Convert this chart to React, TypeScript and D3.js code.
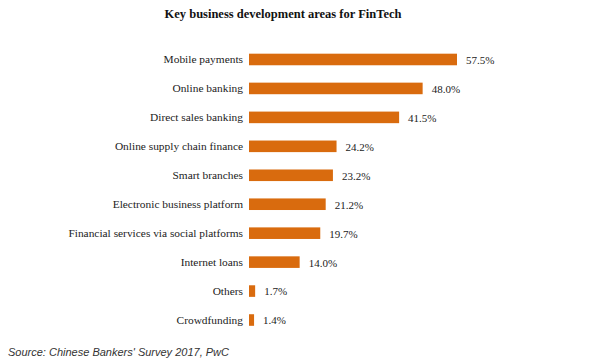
import React from "react";
import * as d3 from "d3";

const categories = [
  "Mobile payments",
  "Online banking",
  "Direct sales banking",
  "Online supply chain finance",
  "Smart branches",
  "Electronic business platform",
  "Financial services via social platforms",
  "Internet loans",
  "Others",
  "Crowdfunding",
];
const values = [57.5, 48.0, 41.5, 24.2, 23.2, 21.2, 19.7, 14.0, 1.7, 1.4];
const title = "Key business development areas for FinTech";
const source = "Source: Chinese Bankers' Survey 2017, PwC";

const W = 600;
const H = 360;
const BAR = "#d96b0e";
const SERIF = "Georgia, 'Liberation Serif', 'DejaVu Serif', serif";

export default function App() {
  const x = d3.scaleLinear().domain([0, 57.5]).range([249, 457]);
  const y = d3
    .scaleBand<string>()
    .domain(categories)
    .range([45, 334.5])
    .paddingInner(0.6)
    .paddingOuter(0.3);
  const bw = y.bandwidth();

  return (
    <div style={{ position: "absolute", left: 0, top: 0 }}>
      <svg width={W} height={H} style={{ display: "block", background: "#fff" }}>
        <text
          x={283}
          y={14}
          dy="0.35em"
          textAnchor="middle"
          fontFamily={SERIF}
          fontWeight="bold"
          fontSize={12.5}
          fill="#111"
        >
          {title}
        </text>
        {categories.map((c, i) => {
          const yc = (y(c) as number) + bw / 2;
          return (
            <g key={c}>
              <rect
                x={x(0)}
                y={y(c)}
                width={x(values[i]) - x(0)}
                height={bw}
                fill={BAR}
              />
              <text
                x={243}
                y={yc}
                dy="0.35em"
                textAnchor="end"
                fontFamily={SERIF}
                fontSize={11.4}
                fill="#222"
              >
                {c}
              </text>
              <text
                x={x(values[i]) + 9}
                y={yc}
                dy="0.4em"
                textAnchor="start"
                fontFamily={SERIF}
                fontSize={11}
                fill="#222"
              >
                {d3.format(".1f")(values[i]) + "%"}
              </text>
            </g>
          );
        })}
        <text
          x={8}
          y={352}
          dy="0.35em"
          fontFamily="'Liberation Sans', Arial, sans-serif"
          fontStyle="italic"
          fontSize={11}
          fill="#333"
        >
          {source}
        </text>
      </svg>
    </div>
  );
}
